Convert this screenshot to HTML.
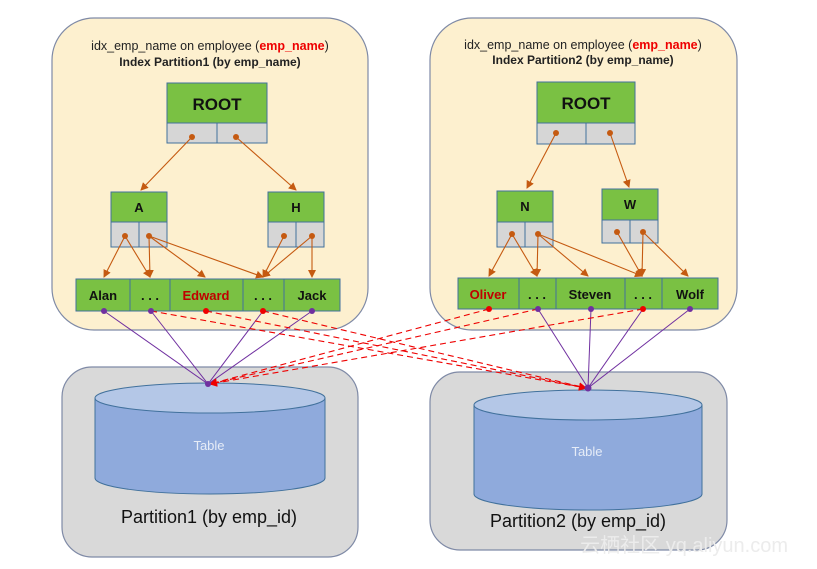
<!DOCTYPE html>
<html><head><meta charset="utf-8"><style>
body{margin:0;background:#fff;}
svg{display:block;font-family:"Liberation Sans","Noto Sans CJK SC",sans-serif;}
</style></head><body>
<svg width="817" height="569" viewBox="0 0 817 569" xmlns="http://www.w3.org/2000/svg">
<defs>
<marker id="ao" markerWidth="8" markerHeight="8" refX="7" refY="4" orient="auto" markerUnits="userSpaceOnUse"><path d="M0,0 L8,4 L0,8 z" fill="#c55a11"/></marker>
<marker id="ar" markerWidth="8" markerHeight="8" refX="7" refY="4" orient="auto" markerUnits="userSpaceOnUse"><path d="M0,0 L8,4 L0,8 z" fill="#e00"/></marker>
</defs>
<rect x="52" y="18" width="316" height="312" rx="42" fill="#fdf0cf" stroke="#7f8aa6" stroke-width="1.2"/>
<rect x="430" y="18" width="307" height="312" rx="42" fill="#fdf0cf" stroke="#7f8aa6" stroke-width="1.2"/>
<rect x="62" y="367" width="296" height="190" rx="30" fill="#d9d9d9" stroke="#7f8aa6" stroke-width="1.2"/>
<rect x="430" y="372" width="297" height="178" rx="30" fill="#d9d9d9" stroke="#7f8aa6" stroke-width="1.2"/>

<text x="210" y="50" font-size="12.5" text-anchor="middle" fill="#222">idx_emp_name on employee (<tspan fill="#e00" font-weight="bold">emp_name</tspan>)</text>
<text x="210" y="66" font-size="12" text-anchor="middle" font-weight="bold" fill="#222">Index Partition1 (by emp_name)</text>
<text x="583" y="49" font-size="12.5" text-anchor="middle" fill="#222">idx_emp_name on employee (<tspan fill="#e00" font-weight="bold">emp_name</tspan>)</text>
<text x="583" y="64" font-size="12" text-anchor="middle" font-weight="bold" fill="#222">Index Partition2 (by emp_name)</text>

<g stroke="#41719c" stroke-width="1">
<rect x="167" y="83" width="100" height="40" fill="#7ac143"/>
<rect x="167" y="123" width="50" height="20" fill="#d6d6d6"/><rect x="217" y="123" width="50" height="20" fill="#d6d6d6"/>
<rect x="111" y="192" width="56" height="30" fill="#7ac143"/>
<rect x="111" y="222" width="28" height="25" fill="#d6d6d6"/><rect x="139" y="222" width="28" height="25" fill="#d6d6d6"/>
<rect x="268" y="192" width="56" height="30" fill="#7ac143"/>
<rect x="268" y="222" width="28" height="25" fill="#d6d6d6"/><rect x="296" y="222" width="28" height="25" fill="#d6d6d6"/>
<rect x="76" y="279" width="54" height="32" fill="#7ac143"/>
<rect x="130" y="279" width="40" height="32" fill="#7ac143"/>
<rect x="170" y="279" width="73" height="32" fill="#7ac143"/>
<rect x="243" y="279" width="41" height="32" fill="#7ac143"/>
<rect x="284" y="279" width="56" height="32" fill="#7ac143"/>
<rect x="537" y="82" width="98" height="41" fill="#7ac143"/>
<rect x="537" y="123" width="49" height="21" fill="#d6d6d6"/><rect x="586" y="123" width="49" height="21" fill="#d6d6d6"/>
<rect x="497" y="191" width="56" height="31" fill="#7ac143"/>
<rect x="497" y="222" width="28" height="25" fill="#d6d6d6"/><rect x="525" y="222" width="28" height="25" fill="#d6d6d6"/>
<rect x="602" y="189" width="56" height="31" fill="#7ac143"/>
<rect x="602" y="220" width="28" height="23" fill="#d6d6d6"/><rect x="630" y="220" width="28" height="23" fill="#d6d6d6"/>
<rect x="458" y="278" width="61" height="31" fill="#7ac143"/>
<rect x="519" y="278" width="37" height="31" fill="#7ac143"/>
<rect x="556" y="278" width="69" height="31" fill="#7ac143"/>
<rect x="625" y="278" width="37" height="31" fill="#7ac143"/>
<rect x="662" y="278" width="56" height="31" fill="#7ac143"/>
</g>

<g font-size="17" text-anchor="middle" fill="#111" font-weight="bold">
<text x="217" y="110">ROOT</text>
<text x="586" y="109">ROOT</text>
</g>
<g font-size="13" text-anchor="middle" fill="#111" font-weight="bold">
<text x="139" y="212">A</text><text x="296" y="212">H</text>
<text x="525" y="211">N</text><text x="630" y="209">W</text>
<text x="103" y="300">Alan</text><text x="150" y="300">. . .</text>
<text x="206" y="300" fill="#c00000">Edward</text><text x="263" y="300">. . .</text>
<text x="312" y="300">Jack</text>
<text x="488" y="299" fill="#c00000">Oliver</text><text x="537" y="299">. . .</text>
<text x="590" y="299">Steven</text><text x="643" y="299">. . .</text>
<text x="690" y="299">Wolf</text>
</g>

<g stroke="#c55a11" stroke-width="1.1" marker-end="url(#ao)" fill="none">
<line x1="192" y1="137" x2="141" y2="190"/><line x1="236" y1="137" x2="296" y2="190"/>
<line x1="125" y1="236" x2="104" y2="277"/><line x1="125" y1="236" x2="150" y2="277"/>
<line x1="149" y1="236" x2="150" y2="277"/><line x1="149" y1="236" x2="205" y2="277"/><line x1="149" y1="236" x2="263" y2="277"/>
<line x1="284" y1="236" x2="263" y2="277"/><line x1="312" y1="236" x2="263" y2="277"/><line x1="312" y1="236" x2="312" y2="277"/>
<line x1="556" y1="133" x2="527" y2="188"/><line x1="610" y1="133" x2="629" y2="187"/>
<line x1="512" y1="234" x2="489" y2="276"/><line x1="512" y1="234" x2="537" y2="276"/>
<line x1="538" y1="234" x2="537" y2="276"/><line x1="538" y1="234" x2="588" y2="276"/><line x1="538" y1="234" x2="642" y2="276"/>
<line x1="617" y1="232" x2="642" y2="276"/><line x1="643" y1="232" x2="642" y2="276"/><line x1="643" y1="232" x2="688" y2="276"/>
</g>
<g fill="#c55a11">
<circle cx="192" cy="137" r="3"/><circle cx="236" cy="137" r="3"/>
<circle cx="125" cy="236" r="3"/><circle cx="149" cy="236" r="3"/><circle cx="284" cy="236" r="3"/><circle cx="312" cy="236" r="3"/>
<circle cx="556" cy="133" r="3"/><circle cx="610" cy="133" r="3"/>
<circle cx="512" cy="234" r="3"/><circle cx="538" cy="234" r="3"/><circle cx="617" cy="232" r="3"/><circle cx="643" cy="232" r="3"/>
</g>

<path d="M95,398 L95,478 A115,16 0 0 0 325,478 L325,398" fill="#8faadc" stroke="#41719c"/>
<ellipse cx="210" cy="398" rx="115" ry="15" fill="#b4c7e7" stroke="#41719c"/>
<path d="M474,405 L474,494 A114,16 0 0 0 702,494 L702,405" fill="#8faadc" stroke="#41719c"/>
<ellipse cx="588" cy="405" rx="114" ry="15" fill="#b4c7e7" stroke="#41719c"/>
<text x="209" y="450" font-size="13" text-anchor="middle" fill="#e6ecf7">Table</text>
<text x="587" y="456" font-size="13" text-anchor="middle" fill="#e6ecf7">Table</text>
<text x="209" y="523" font-size="18" text-anchor="middle" fill="#111">Partition1 (by emp_id)</text>
<text x="578" y="527" font-size="18" text-anchor="middle" fill="#111">Partition2 (by emp_id)</text>

<g stroke="#7030a0" stroke-width="1">
<line x1="104" y1="311" x2="208" y2="384"/><line x1="151" y1="311" x2="208" y2="384"/>
<line x1="263" y1="311" x2="208" y2="384"/><line x1="312" y1="311" x2="208" y2="384"/>
<line x1="538" y1="309" x2="588" y2="388"/><line x1="591" y1="309" x2="588" y2="388"/>
<line x1="643" y1="309" x2="588" y2="388"/><line x1="690" y1="309" x2="588" y2="388"/>
</g>
<g stroke="#e00" stroke-width="1.1" stroke-dasharray="6,4" marker-end="url(#ar)" fill="none">
<line x1="151" y1="311" x2="586" y2="388"/><line x1="206" y1="311" x2="586" y2="388"/><line x1="263" y1="311" x2="586" y2="388"/>
<line x1="489" y1="309" x2="210" y2="384"/><line x1="538" y1="309" x2="210" y2="384"/><line x1="643" y1="309" x2="210" y2="384"/>
</g>
<g fill="#7030a0">
<circle cx="104" cy="311" r="3"/><circle cx="151" cy="311" r="3"/><circle cx="312" cy="311" r="3"/>
<circle cx="538" cy="309" r="3"/><circle cx="591" cy="309" r="3"/><circle cx="690" cy="309" r="3"/>
<circle cx="208" cy="384" r="3"/><circle cx="588" cy="388" r="3.5"/>
</g>
<g fill="#e00">
<circle cx="206" cy="311" r="3"/><circle cx="263" cy="311" r="3"/>
<circle cx="489" cy="309" r="3"/><circle cx="643" cy="309" r="3"/>
</g>
<text x="788" y="552" font-size="20" text-anchor="end" fill="#ececec">云栖社区 yq.aliyun.com</text>
</svg>
</body></html>
